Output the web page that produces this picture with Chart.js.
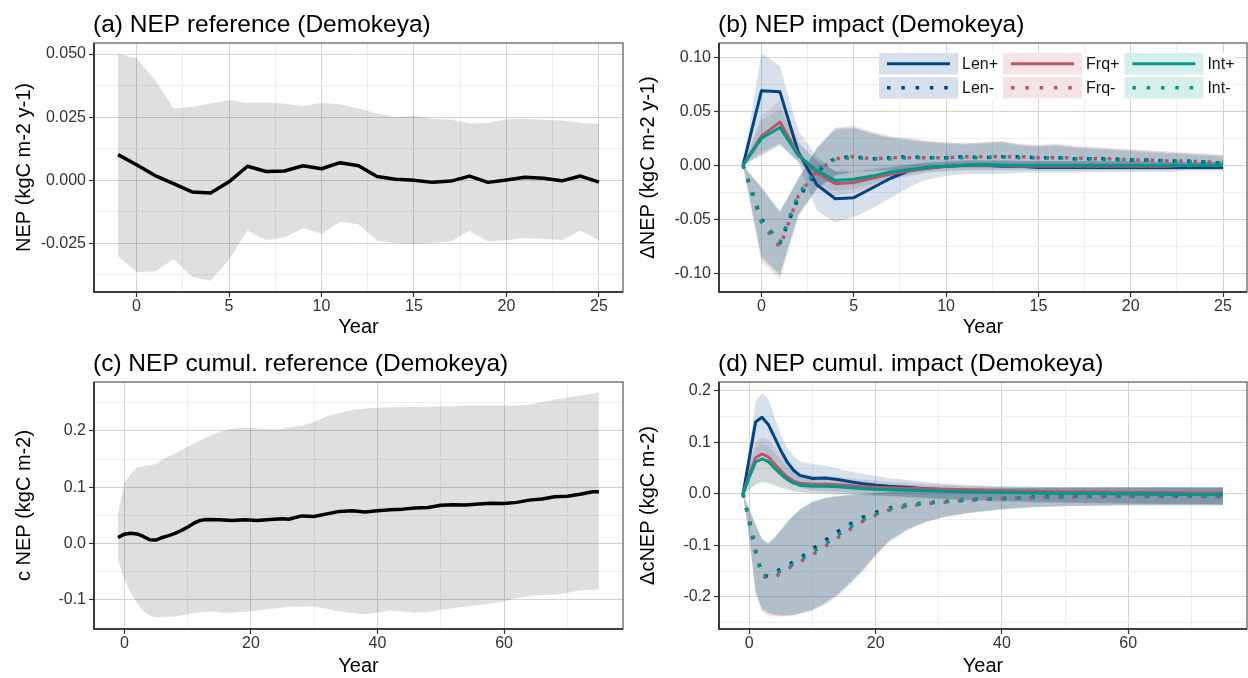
<!DOCTYPE html>
<html>
<head>
<meta charset="utf-8">
<title>NEP Demokeya</title>
<script src="https://cdn.jsdelivr.net/npm/chart.js@4.4.1/dist/chart.umd.min.js"></script>
<style>
  body { margin: 0; background: #fff; }
  #board { position: relative; width: 1248px; height: 678px; }
  #board canvas { position: absolute; }
</style>
</head>
<body>
<div id="board">
  <canvas id="chart-a" width="624" height="339" style="left:0;top:0"></canvas>
  <canvas id="chart-b" width="624" height="339" style="left:624px;top:0"></canvas>
  <canvas id="chart-c" width="624" height="339" style="left:0;top:339px"></canvas>
  <canvas id="chart-d" width="624" height="339" style="left:624px;top:339px"></canvas>
</div>
<script>
// ---- data: panels (a) and (b), one value per year -1 .. 25
const yearsShort = [-1, 0, 1, 2, 3, 4, 5, 6, 7, 8, 9, 10, 11, 12, 13, 14, 15, 16, 17, 18, 19, 20, 21, 22, 23, 24, 25];

const aMean = [0.0101, 0.0061, 0.0018, -0.0014, -0.0047, -0.0051, -0.0007, 0.0055, 0.0034, 0.0036, 0.0057, 0.0045, 0.0069, 0.0057, 0.0014, 0.0003, -0.0001, -0.0009, -0.0004, 0.0016, -0.0009, 0.0000, 0.0011, 0.0007, -0.0003, 0.0016, -0.0008];
const aHi = [0.0500, 0.0483, 0.0397, 0.0284, 0.0291, 0.0304, 0.0318, 0.0307, 0.0308, 0.0304, 0.0293, 0.0307, 0.0301, 0.0284, 0.0264, 0.0250, 0.0254, 0.0243, 0.0239, 0.0226, 0.0228, 0.0241, 0.0243, 0.0239, 0.0236, 0.0228, 0.0223];
const aLo = [-0.0302, -0.0365, -0.0363, -0.0313, -0.0383, -0.0399, -0.0316, -0.0200, -0.0239, -0.0228, -0.0190, -0.0214, -0.0165, -0.0175, -0.0240, -0.0250, -0.0254, -0.0250, -0.0244, -0.0201, -0.0244, -0.0239, -0.0230, -0.0234, -0.0238, -0.0201, -0.0238];

const bLenPlus = [0, 0.069, 0.068, 0.012, -0.018, -0.031, -0.030, -0.021, -0.012, -0.005, -0.002, -0.001, 0, 0, -0.001, -0.001, -0.002, -0.002, -0.002, -0.002, -0.002, -0.002, -0.002, -0.002, -0.002, -0.002, -0.002];
const bFrqPlus = [0, 0.027, 0.040, 0.010, -0.007, -0.017, -0.016, -0.012, -0.008, -0.005, -0.003, -0.001, 0, 0, 0, -0.001, -0.001, -0.001, -0.001, -0.001, -0.001, -0.001, -0.001, -0.001, 0, 0, 0];
const bIntPlus = [0, 0.025, 0.035, 0.009, -0.005, -0.014, -0.013, -0.010, -0.006, -0.004, -0.002, -0.001, 0, 0.001, 0, 0, 0, 0, 0, 0, 0, 0, 0, 0, 0, 0, 0];
const bLenMinus = [0, -0.050, -0.072, -0.030, -0.006, 0.007, 0.008, 0.006, 0.007, 0.008, 0.007, 0.007, 0.008, 0.007, 0.008, 0.008, 0.007, 0.007, 0.006, 0.006, 0.006, 0.005, 0.005, 0.004, 0.004, 0.003, 0.002];
const bFrqMinus = [0, -0.053, -0.076, -0.028, -0.005, 0.006, 0.008, 0.006, 0.007, 0.007, 0.007, 0.007, 0.008, 0.008, 0.008, 0.008, 0.007, 0.007, 0.007, 0.006, 0.006, 0.005, 0.005, 0.004, 0.004, 0.003, 0.003];
const bIntMinus = [0, -0.052, -0.071, -0.027, -0.004, 0.006, 0.007, 0.006, 0.006, 0.007, 0.007, 0.007, 0.007, 0.007, 0.008, 0.007, 0.007, 0.007, 0.006, 0.006, 0.005, 0.005, 0.005, 0.004, 0.003, 0.003, 0.002];

const bLenPlusHi = [0, 0.104, 0.092, 0.032, 0.008, -0.006, -0.007, -0.005, -0.002, 0.001, 0.003, 0.004, 0.005, 0.005, 0.005, 0.004, 0.004, 0.004, 0.004, 0.004, 0.004, 0.004, 0.004, 0.003, 0.003, 0.003, 0.003];
const bLenPlusLo = [0, 0.012, 0.020, 0.002, -0.042, -0.053, -0.048, -0.040, -0.030, -0.020, -0.013, -0.010, -0.008, -0.008, -0.008, -0.007, -0.007, -0.007, -0.007, -0.006, -0.006, -0.006, -0.006, -0.006, -0.005, -0.005, -0.005];
const bFrqPlusHi = [0, 0.046, 0.060, 0.022, 0.004, -0.006, -0.006, -0.004, -0.002, 0.000, 0.002, 0.003, 0.004, 0.004, 0.004, 0.004, 0.004, 0.004, 0.004, 0.004, 0.004, 0.004, 0.003, 0.003, 0.003, 0.003, 0.003];
const bFrqPlusLo = [0, 0.009, 0.020, 0.004, -0.020, -0.028, -0.026, -0.020, -0.014, -0.010, -0.007, -0.006, -0.005, -0.005, -0.005, -0.005, -0.005, -0.005, -0.005, -0.005, -0.005, -0.005, -0.005, -0.005, -0.004, -0.004, -0.004];
const bIntPlusHi = [0, 0.042, 0.052, 0.020, 0.004, -0.005, -0.005, -0.003, -0.001, 0.001, 0.002, 0.003, 0.004, 0.004, 0.004, 0.004, 0.004, 0.004, 0.004, 0.004, 0.004, 0.004, 0.003, 0.003, 0.003, 0.003, 0.003];
const bIntPlusLo = [0, 0.009, 0.018, 0.004, -0.017, -0.024, -0.022, -0.017, -0.012, -0.009, -0.006, -0.005, -0.004, -0.004, -0.004, -0.004, -0.004, -0.004, -0.004, -0.004, -0.004, -0.004, -0.004, -0.004, -0.004, -0.004, -0.004];
const bLenMinusHi = [0, -0.020, -0.043, -0.012, 0.016, 0.034, 0.035, 0.030, 0.026, 0.024, 0.022, 0.021, 0.020, 0.021, 0.022, 0.019, 0.018, 0.019, 0.017, 0.016, 0.015, 0.014, 0.013, 0.012, 0.011, 0.010, 0.009];
const bLenMinusLo = [0, -0.086, -0.102, -0.046, -0.022, -0.009, -0.006, -0.005, -0.004, -0.003, -0.002, -0.002, -0.002, -0.002, -0.001, -0.001, -0.001, -0.001, -0.001, -0.001, -0.001, -0.001, -0.001, -0.001, -0.001, -0.001, -0.001];
const bFrqMinusHi = [0, -0.020, -0.044, -0.012, 0.017, 0.035, 0.037, 0.031, 0.027, 0.025, 0.023, 0.021, 0.021, 0.021, 0.022, 0.020, 0.019, 0.020, 0.018, 0.017, 0.016, 0.015, 0.014, 0.013, 0.012, 0.011, 0.010];
const bFrqMinusLo = [0, -0.090, -0.106, -0.048, -0.022, -0.009, -0.006, -0.005, -0.004, -0.003, -0.002, -0.002, -0.002, -0.002, -0.001, -0.001, -0.001, -0.001, -0.001, -0.001, -0.001, -0.001, -0.001, -0.001, -0.001, -0.001, -0.001];
const bIntMinusHi = [0, -0.022, -0.042, -0.013, 0.015, 0.033, 0.034, 0.029, 0.025, 0.023, 0.021, 0.020, 0.019, 0.020, 0.021, 0.018, 0.017, 0.018, 0.016, 0.015, 0.014, 0.013, 0.012, 0.011, 0.010, 0.009, 0.008];
const bIntMinusLo = [0, -0.084, -0.100, -0.045, -0.021, -0.010, -0.007, -0.006, -0.005, -0.004, -0.003, -0.003, -0.002, -0.002, -0.002, -0.002, -0.002, -0.002, -0.002, -0.002, -0.002, -0.002, -0.002, -0.002, -0.002, -0.002, -0.002];

// ---- data: panel (c), cumulative reference
const cLineYears = [-1, 0, 1, 2, 3, 4, 5, 6, 7, 8, 9, 10, 11, 12, 13, 15, 17, 19, 21, 23, 25, 26, 28, 30, 32, 34, 36, 38, 40, 42, 44, 46, 48, 50, 52, 54, 56, 58, 60, 62, 64, 66, 68, 70, 72, 74, 75];
const cMean = [0.0106, 0.0165, 0.018, 0.017, 0.0124, 0.0065, 0.006, 0.0106, 0.014, 0.018, 0.023, 0.029, 0.036, 0.041, 0.0425, 0.042, 0.041, 0.042, 0.041, 0.0425, 0.0437, 0.043, 0.049, 0.048, 0.0526, 0.057, 0.058, 0.056, 0.058, 0.0597, 0.061, 0.063, 0.064, 0.068, 0.069, 0.0685, 0.070, 0.0715, 0.071, 0.073, 0.077, 0.079, 0.083, 0.084, 0.0875, 0.092, 0.092];
const cBandYears = [-1, 0, 1, 2, 3, 4, 5, 6, 8, 10, 12, 14, 16, 18, 20, 22, 24, 26, 28, 30, 32, 34, 36, 38, 40, 42, 44, 46, 48, 50, 52, 54, 56, 58, 60, 62, 64, 66, 68, 70, 72, 75];
const cHi = [0.054, 0.107, 0.124, 0.135, 0.137, 0.139, 0.141, 0.149, 0.160, 0.172, 0.183, 0.194, 0.201, 0.205, 0.205, 0.204, 0.202, 0.206, 0.209, 0.216, 0.226, 0.232, 0.237, 0.240, 0.241, 0.242, 0.242, 0.243, 0.243, 0.244, 0.244, 0.245, 0.245, 0.245, 0.245, 0.245, 0.247, 0.251, 0.256, 0.259, 0.263, 0.268];
const cLo = [-0.029, -0.064, -0.088, -0.106, -0.120, -0.128, -0.131, -0.1305, -0.130, -0.126, -0.122, -0.121, -0.124, -0.122, -0.121, -0.118, -0.115, -0.113, -0.112, -0.112, -0.116, -0.121, -0.123, -0.126, -0.123, -0.119, -0.121, -0.123, -0.122, -0.118, -0.115, -0.112, -0.110, -0.107, -0.103, -0.097, -0.094, -0.091, -0.091, -0.088, -0.083, -0.082];

// ---- data: panel (d), cumulative impact
const dYears = [-1, 0, 1, 2, 3, 4, 5, 6, 7, 8, 10, 12, 14, 16, 18, 20, 22, 25, 28, 31, 35, 40, 45, 50, 55, 60, 65, 70, 75];
const dLenPlus = [0, 0.070, 0.140, 0.149, 0.135, 0.110, 0.084, 0.062, 0.046, 0.036, 0.030, 0.031, 0.028, 0.0235, 0.020, 0.017, 0.015, 0.013, 0.010, 0.008, 0.006, 0.004, 0.003, 0.002, 0.001, 0.001, 0.000, 0.000, 0.000];
const dFrqPlus = [0, 0.037, 0.070, 0.078, 0.072, 0.058, 0.045, 0.033, 0.025, 0.021, 0.019, 0.019, 0.018, 0.016, 0.014, 0.013, 0.012, 0.011, 0.010, 0.009, 0.008, 0.006, 0.005, 0.004, 0.004, 0.003, 0.003, 0.002, 0.002];
const dIntPlus = [0, 0.033, 0.062, 0.068, 0.063, 0.050, 0.038, 0.028, 0.021, 0.017, 0.015, 0.015, 0.014, 0.012, 0.010, 0.009, 0.008, 0.007, 0.006, 0.005, 0.004, 0.003, 0.002, 0.001, 0.001, 0.000, 0.000, -0.001, -0.001];
const dLenMinus = [0, -0.050, -0.110, -0.157, -0.160, -0.152, -0.146, -0.139, -0.132, -0.125, -0.107, -0.090, -0.073, -0.058, -0.045, -0.036, -0.028, -0.021, -0.017, -0.015, -0.011, -0.009, -0.006, -0.005, -0.004, -0.004, -0.004, -0.004, -0.004];
const dFrqMinus = [0, -0.055, -0.115, -0.160, -0.163, -0.163, -0.153, -0.146, -0.139, -0.132, -0.118, -0.102, -0.085, -0.068, -0.053, -0.041, -0.032, -0.024, -0.019, -0.016, -0.012, -0.009, -0.007, -0.006, -0.005, -0.005, -0.005, -0.005, -0.005];
const dIntMinus = [0, -0.052, -0.112, -0.159, -0.158, -0.155, -0.149, -0.142, -0.136, -0.129, -0.113, -0.097, -0.080, -0.064, -0.050, -0.039, -0.030, -0.022, -0.018, -0.015, -0.011, -0.009, -0.007, -0.005, -0.004, -0.004, -0.004, -0.004, -0.004];

const dLenPlusHi = [0, 0.090, 0.180, 0.195, 0.185, 0.150, 0.115, 0.090, 0.073, 0.063, 0.058, 0.055, 0.049, 0.043, 0.039, 0.035, 0.031, 0.027, 0.023, 0.020, 0.017, 0.015, 0.014, 0.013, 0.013, 0.013, 0.013, 0.013, 0.013];
const dLenPlusLo = [0, 0.030, 0.070, 0.085, 0.075, 0.060, 0.045, 0.032, 0.020, 0.012, 0.007, 0.006, 0.005, 0.003, 0.001, -0.001, -0.003, -0.005, -0.007, -0.009, -0.011, -0.013, -0.015, -0.016, -0.017, -0.018, -0.019, -0.019, -0.020];
const dFrqPlusHi = [0, 0.060, 0.100, 0.110, 0.105, 0.092, 0.075, 0.060, 0.048, 0.040, 0.036, 0.035, 0.033, 0.030, 0.028, 0.026, 0.024, 0.022, 0.020, 0.018, 0.016, 0.015, 0.014, 0.013, 0.013, 0.013, 0.013, 0.013, 0.013];
const dFrqPlusLo = [0, 0.008, 0.020, 0.025, 0.022, 0.018, 0.013, 0.009, 0.006, 0.004, 0.002, 0.001, 0.000, -0.001, -0.002, -0.003, -0.004, -0.006, -0.008, -0.010, -0.012, -0.014, -0.016, -0.017, -0.018, -0.019, -0.019, -0.020, -0.020];
const dIntPlusHi = [0, 0.055, 0.090, 0.098, 0.093, 0.080, 0.065, 0.052, 0.042, 0.035, 0.031, 0.030, 0.028, 0.026, 0.024, 0.022, 0.020, 0.018, 0.016, 0.015, 0.014, 0.013, 0.012, 0.012, 0.012, 0.012, 0.012, 0.012, 0.012];
const dIntPlusLo = [0, 0.007, 0.018, 0.022, 0.020, 0.016, 0.011, 0.008, 0.005, 0.003, 0.001, 0.000, -0.001, -0.002, -0.003, -0.004, -0.005, -0.007, -0.009, -0.011, -0.013, -0.015, -0.016, -0.017, -0.018, -0.019, -0.020, -0.020, -0.021];
const dLenMinusHi = [0, -0.030, -0.060, -0.088, -0.096, -0.085, -0.070, -0.055, -0.042, -0.030, -0.015, -0.008, -0.004, -0.002, 0.000, 0.002, 0.004, 0.006, 0.008, 0.009, 0.010, 0.011, 0.012, 0.012, 0.013, 0.013, 0.013, 0.013, 0.013];
const dLenMinusLo = [0, -0.085, -0.190, -0.225, -0.232, -0.235, -0.237, -0.237, -0.236, -0.233, -0.227, -0.215, -0.198, -0.175, -0.150, -0.120, -0.095, -0.070, -0.055, -0.045, -0.037, -0.030, -0.026, -0.024, -0.023, -0.022, -0.022, -0.022, -0.022];
const dFrqMinusHi = [0, -0.032, -0.062, -0.090, -0.098, -0.087, -0.072, -0.057, -0.044, -0.032, -0.017, -0.009, -0.005, -0.003, -0.001, 0.001, 0.003, 0.005, 0.007, 0.008, 0.009, 0.010, 0.011, 0.012, 0.012, 0.012, 0.012, 0.012, 0.012];
const dFrqMinusLo = [0, -0.088, -0.195, -0.230, -0.236, -0.238, -0.238, -0.237, -0.235, -0.232, -0.225, -0.212, -0.195, -0.172, -0.147, -0.118, -0.093, -0.069, -0.054, -0.044, -0.036, -0.029, -0.025, -0.023, -0.022, -0.022, -0.021, -0.021, -0.021];
const dIntMinusHi = [0, -0.029, -0.058, -0.086, -0.094, -0.083, -0.068, -0.053, -0.040, -0.029, -0.014, -0.007, -0.003, -0.001, 0.001, 0.003, 0.005, 0.007, 0.009, 0.010, 0.011, 0.012, 0.012, 0.013, 0.013, 0.013, 0.013, 0.013, 0.013];
const dIntMinusLo = [0, -0.082, -0.188, -0.222, -0.230, -0.233, -0.235, -0.235, -0.234, -0.231, -0.224, -0.211, -0.194, -0.171, -0.146, -0.117, -0.092, -0.068, -0.053, -0.044, -0.036, -0.030, -0.026, -0.024, -0.023, -0.022, -0.022, -0.022, -0.022];

// ---- tick values (major labelled, minor grid only)
const xShortMajor = [0, 5, 10, 15, 20, 25];
const xShortMinor = [2.5, 7.5, 12.5, 17.5, 22.5];
const xLongMajor = [0, 20, 40, 60];
const xLongMinor = [10, 30, 50, 70];
const aYMajor = [-0.025, 0, 0.025, 0.05];
const aYMinor = [-0.0375, -0.0125, 0.0125, 0.0375];
const bYMajor = [-0.1, -0.05, 0, 0.05, 0.1];
const bYMinor = [-0.075, -0.025, 0.025, 0.075];
const cYMajor = [-0.1, 0, 0.1, 0.2];
const cYMinor = [-0.05, 0.05, 0.15, 0.25];
const dYMajor = [-0.2, -0.1, 0, 0.1, 0.2];
const dYMinor = [-0.25, -0.15, -0.05, 0.05, 0.15];

const seriesNames = ["Len+", "Len-", "Frq+", "Frq-", "Int+", "Int-"];

// ---- styling
const FONT = '"Liberation Sans", Arial, Helvetica, sans-serif';
const BLUE = "#004488", RED = "#BB5566", TEAL = "#009988";
const BLUE_FILL = "rgba(0, 68, 136, 0.16)";
const RED_FILL = "rgba(187, 85, 102, 0.16)";
const TEAL_FILL = "rgba(0, 153, 136, 0.16)";
const GREY_FILL = "rgba(0, 0, 0, 0.125)";

Chart.defaults.font.family = FONT;

function pts(xs, ys) {
  return xs.map((x, i) => ({ x: x, y: ys[i] }));
}

function lineSet(xs, ys, color, dotted, order, width) {
  return {
    data: pts(xs, ys),
    borderColor: color,
    borderWidth: width || (dotted ? 3.5 : 3),
    borderDash: dotted ? [3.5, 10.8] : [],
    borderCapStyle: "butt",
    borderJoinStyle: "round",
    fill: false,
    pointRadius: 0,
    order: order
  };
}

// upper edge fills down to the lower edge that follows it
function bandSets(xs, lo, hi, fillColor) {
  return [
    { data: pts(xs, hi), borderColor: "rgba(0,0,0,0)", borderWidth: 1, backgroundColor: fillColor, fill: "+1", pointRadius: 0, order: 9 },
    { data: pts(xs, lo), borderColor: "rgba(0,0,0,0)", borderWidth: 1, fill: false, pointRadius: 0, order: 9 }
  ];
}

function makeAxis(o) {
  const all = o.major.concat(o.minor).sort((p, q) => p - q);
  const isMajor = v => o.major.indexOf(v) !== -1;
  return {
    type: "linear",
    position: o.isX ? "bottom" : "left",
    min: o.min,
    max: o.max,
    afterBuildTicks: scale => { scale.ticks = all.map(v => ({ value: v })); },
    afterFit: scale => { if (o.isX) scale.height = o.size; else scale.width = o.size; },
    ticks: {
      autoSkip: false,
      maxRotation: 0,
      padding: o.isX ? 2 : 3,
      color: "#333",
      font: { size: 16, lineHeight: 1 },
      callback: v => isMajor(v) ? v.toFixed(o.digits) : ""
    },
    grid: {
      color: c => (c.tick && isMajor(c.tick.value)) ? "#d4d4d4" : "#eeeeee",
      lineWidth: 1,
      tickLength: 5,
      tickWidth: 1.2,
      tickColor: c => (c.tick && isMajor(c.tick.value)) ? "#333" : "rgba(0,0,0,0)"
    },
    border: { display: false },
    title: {
      display: true,
      text: o.title,
      color: "#000",
      font: { size: 20, lineHeight: 1.2 },
      padding: o.isX ? { top: 0, bottom: 0 } : { top: 12, bottom: 0 }
    }
  };
}

// panel title, left aligned with the plotting area
const panelTitle = {
  id: "panelTitle",
  afterDraw(chart, args, opts) {
    const { ctx, chartArea } = chart;
    ctx.save();
    ctx.font = "24.5px " + FONT;
    ctx.fillStyle = "#000";
    ctx.textBaseline = "alphabetic";
    ctx.fillText(opts.text, chartArea.left - 1, chartArea.top - 11.5);
    ctx.restore();
  }
};

// panel border
const panelFrame = {
  id: "panelFrame",
  afterDatasetsDraw(chart) {
    const { ctx, chartArea: a } = chart;
    ctx.save();
    ctx.strokeStyle = "#555";
    ctx.lineWidth = 1.2;
    ctx.strokeRect(a.left, a.top, a.right - a.left, a.bottom - a.top);
    ctx.strokeStyle = "#222";
    ctx.lineWidth = 1.6;
    ctx.beginPath();
    ctx.moveTo(a.left, a.top);
    ctx.lineTo(a.left, a.bottom);
    ctx.lineTo(a.right, a.bottom);
    ctx.stroke();
    ctx.restore();
  }
};

// 3 x 2 legend inside panel (b)
const impactLegend = {
  id: "impactLegend",
  afterDraw(chart, args, opts) {
    if (!opts.groups) return;
    const { ctx, chartArea } = chart;
    const boxW = 79, boxH = 21.5, rowGap = 2.5;
    const x0 = chartArea.left + 160, y0 = chartArea.top + 10;
    ctx.save();
    ctx.font = "16px " + FONT;
    let x = x0;
    const cols = opts.groups.map(g => {
      const w = Math.max(ctx.measureText(g.names[0]).width, ctx.measureText(g.names[1]).width);
      const col = { x: x, g: g };
      x += boxW + 4 + w + 5;
      return col;
    });
    ctx.fillStyle = "#fff";
    ctx.fillRect(x0, y0, x - 5 - x0, boxH * 2 + rowGap);
    cols.forEach(col => {
      [0, 1].forEach(row => {
        const top = y0 + row * (boxH + rowGap);
        const mid = top + boxH / 2;
        ctx.fillStyle = col.g.fill;
        ctx.fillRect(col.x, top, boxW, boxH);
        ctx.beginPath();
        ctx.strokeStyle = col.g.color;
        ctx.lineCap = "butt";
        if (row === 0) {
          ctx.lineWidth = 3;
          ctx.setLineDash([]);
        } else {
          ctx.lineWidth = 3.5;
          ctx.setLineDash([3.5, 10.8]);
        }
        ctx.moveTo(col.x + 8, mid);
        ctx.lineTo(col.x + boxW - 8, mid);
        ctx.stroke();
        ctx.setLineDash([]);
        ctx.fillStyle = "#111";
        ctx.textBaseline = "middle";
        ctx.fillText(col.g.names[row], col.x + boxW + 4, mid + 1);
      });
    });
    ctx.restore();
  }
};

function makeChart(id, datasets, xAxis, yAxis, title, legendOpts) {
  return new Chart(document.getElementById(id), {
    type: "line",
    data: { datasets: datasets },
    options: {
      responsive: false,
      animation: false,
      devicePixelRatio: 1,
      layout: { padding: { top: 43, right: 1, left: 0, bottom: 0 } },
      elements: { point: { radius: 0 }, line: { tension: 0 } },
      scales: { x: xAxis, y: yAxis },
      plugins: {
        legend: { display: false },
        tooltip: { enabled: false },
        filler: { drawTime: "beforeDatasetsDraw" },
        panelTitle: { text: title },
        impactLegend: legendOpts || false
      }
    },
    plugins: [panelTitle, panelFrame, impactLegend]
  });
}

// (a) NEP reference
makeChart("chart-a",
  [lineSet(yearsShort, aMean, "#000", false, 0, 3.5)].concat(bandSets(yearsShort, aLo, aHi, GREY_FILL)),
  makeAxis({ isX: true, min: -2.3, max: 26.3, major: xShortMajor, minor: xShortMinor, digits: 0, size: 47, title: "Year" }),
  makeAxis({ isX: false, min: -0.0444, max: 0.0544, major: aYMajor, minor: aYMinor, digits: 3, size: 94, title: "NEP (kgC m-2 y-1)" }),
  "(a) NEP reference (Demokeya)");

// (b) NEP impact
makeChart("chart-b",
  [
    lineSet(yearsShort, bLenPlus, BLUE, false, 2),
    lineSet(yearsShort, bLenMinus, BLUE, true, 2),
    lineSet(yearsShort, bFrqPlus, RED, false, 1),
    lineSet(yearsShort, bFrqMinus, RED, true, 1),
    lineSet(yearsShort, bIntPlus, TEAL, false, 0),
    lineSet(yearsShort, bIntMinus, TEAL, true, 0)
  ]
    .concat(bandSets(yearsShort, bLenPlusLo, bLenPlusHi, BLUE_FILL))
    .concat(bandSets(yearsShort, bLenMinusLo, bLenMinusHi, BLUE_FILL))
    .concat(bandSets(yearsShort, bFrqPlusLo, bFrqPlusHi, RED_FILL))
    .concat(bandSets(yearsShort, bFrqMinusLo, bFrqMinusHi, RED_FILL))
    .concat(bandSets(yearsShort, bIntPlusLo, bIntPlusHi, TEAL_FILL))
    .concat(bandSets(yearsShort, bIntMinusLo, bIntMinusHi, TEAL_FILL)),
  makeAxis({ isX: true, min: -2.3, max: 26.3, major: xShortMajor, minor: xShortMinor, digits: 0, size: 47, title: "Year" }),
  makeAxis({ isX: false, min: -0.1173, max: 0.1132, major: bYMajor, minor: bYMinor, digits: 2, size: 95, title: "\u0394NEP (kgC m-2 y-1)" }),
  "(b) NEP impact (Demokeya)",
  {
    groups: [
      { names: [seriesNames[0], seriesNames[1]], color: BLUE, fill: BLUE_FILL },
      { names: [seriesNames[2], seriesNames[3]], color: RED, fill: RED_FILL },
      { names: [seriesNames[4], seriesNames[5]], color: TEAL, fill: TEAL_FILL }
    ]
  });

// (c) NEP cumulative reference
makeChart("chart-c",
  [lineSet(cLineYears, cMean, "#000", false, 0, 3.5)].concat(bandSets(cBandYears, cLo, cHi, GREY_FILL)),
  makeAxis({ isX: true, min: -4.8, max: 78.8, major: xLongMajor, minor: xLongMinor, digits: 0, size: 49, title: "Year" }),
  makeAxis({ isX: false, min: -0.152, max: 0.2869, major: cYMajor, minor: cYMinor, digits: 1, size: 94, title: "c NEP (kgC m-2)" }),
  "(c) NEP cumul. reference (Demokeya)");

// (d) NEP cumulative impact
makeChart("chart-d",
  [
    lineSet(dYears, dLenPlus, BLUE, false, 2),
    lineSet(dYears, dLenMinus, BLUE, true, 2),
    lineSet(dYears, dFrqPlus, RED, false, 1),
    lineSet(dYears, dFrqMinus, RED, true, 1),
    lineSet(dYears, dIntPlus, TEAL, false, 0),
    lineSet(dYears, dIntMinus, TEAL, true, 0)
  ]
    .concat(bandSets(dYears, dLenPlusLo, dLenPlusHi, BLUE_FILL))
    .concat(bandSets(dYears, dLenMinusLo, dLenMinusHi, BLUE_FILL))
    .concat(bandSets(dYears, dFrqPlusLo, dFrqPlusHi, RED_FILL))
    .concat(bandSets(dYears, dFrqMinusLo, dFrqMinusHi, RED_FILL))
    .concat(bandSets(dYears, dIntPlusLo, dIntPlusHi, TEAL_FILL))
    .concat(bandSets(dYears, dIntMinusLo, dIntMinusHi, TEAL_FILL)),
  makeAxis({ isX: true, min: -4.8, max: 78.8, major: xLongMajor, minor: xLongMinor, digits: 0, size: 49, title: "Year" }),
  makeAxis({ isX: false, min: -0.2623, max: 0.2174, major: dYMajor, minor: dYMinor, digits: 1, size: 95, title: "\u0394cNEP (kgC m-2)" }),
  "(d) NEP cumul. impact (Demokeya)");
</script>
</body>
</html>
